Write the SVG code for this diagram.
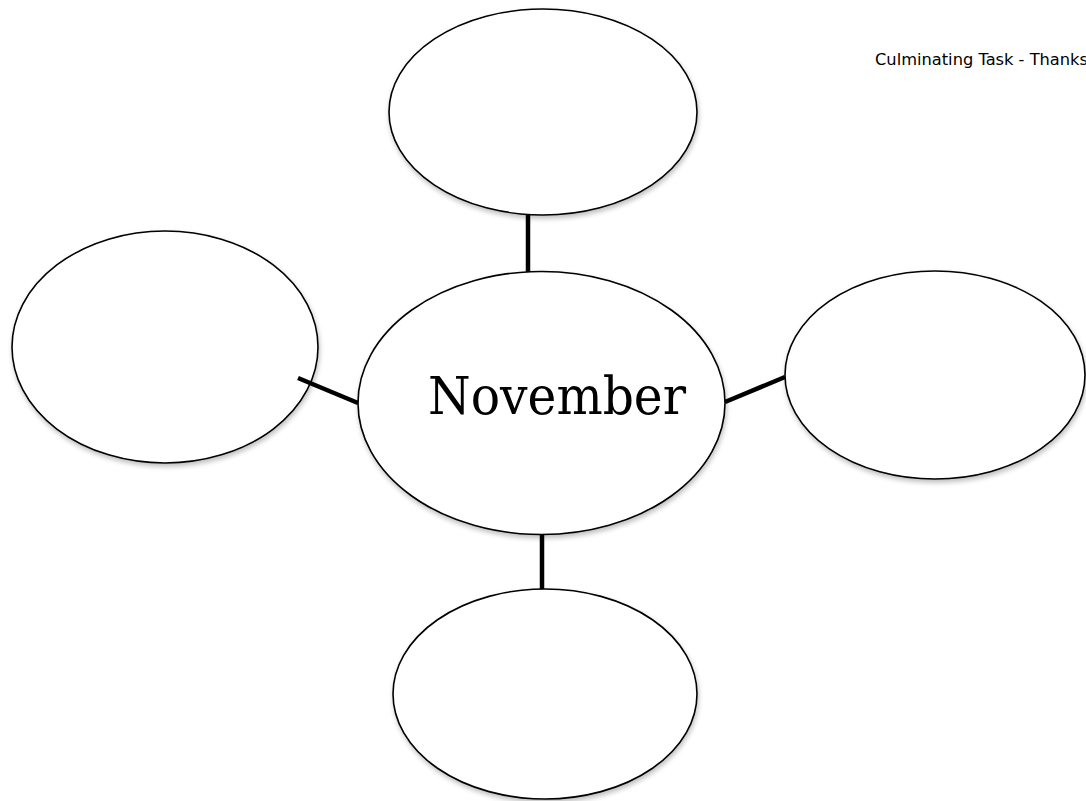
<svg xmlns="http://www.w3.org/2000/svg" width="1086" height="801" viewBox="0 0 1086 801">
<defs>
<filter id="sh" x="-10%" y="-10%" width="120%" height="125%">
<feGaussianBlur in="SourceAlpha" stdDeviation="2.5"/>
<feOffset dx="1" dy="3" result="b"/>
<feComponentTransfer><feFuncA type="linear" slope="0.25"/></feComponentTransfer>
<feMerge><feMergeNode/><feMergeNode in="SourceGraphic"/></feMerge>
</filter>
</defs>
<style>
.node{fill:#fff;stroke:#000;stroke-width:1.6;filter:url(#sh)}
.conn{stroke:#000;stroke-width:4.5;fill:none}
.title{font-family:"Comic Sans MS","DejaVu Sans",sans-serif;font-size:16px;fill:#000}
.main{font-family:"DejaVu Serif","Liberation Serif",serif;font-size:52px;fill:#000}
</style>
<rect width="1086" height="801" fill="#fff"/>
<text class="title" x="875" y="65" textLength="213" lengthAdjust="spacingAndGlyphs">Culminating Task - Thanks</text>
<g id="node-top"><ellipse class="node" cx="543" cy="112" rx="154" ry="103"/></g>
<g id="node-left"><ellipse class="node" cx="165" cy="347" rx="153" ry="116"/></g>
<g id="node-right"><ellipse class="node" cx="935" cy="375" rx="150" ry="104"/></g>
<g id="node-bottom"><ellipse class="node" cx="545" cy="694" rx="152" ry="105"/></g>
<g id="node-center"><ellipse class="node" cx="541.5" cy="403" rx="183.5" ry="131.5"/>
<text class="main" x="428" y="414" textLength="258" lengthAdjust="spacingAndGlyphs">November</text></g>
<g id="connectors">
<line class="conn" x1="528" y1="215" x2="528" y2="272"/>
<line class="conn" x1="542" y1="535" x2="542" y2="589"/>
<line class="conn" x1="298" y1="378" x2="358" y2="403"/>
<line class="conn" x1="725" y1="402" x2="785" y2="377"/>
</g>
</svg>
